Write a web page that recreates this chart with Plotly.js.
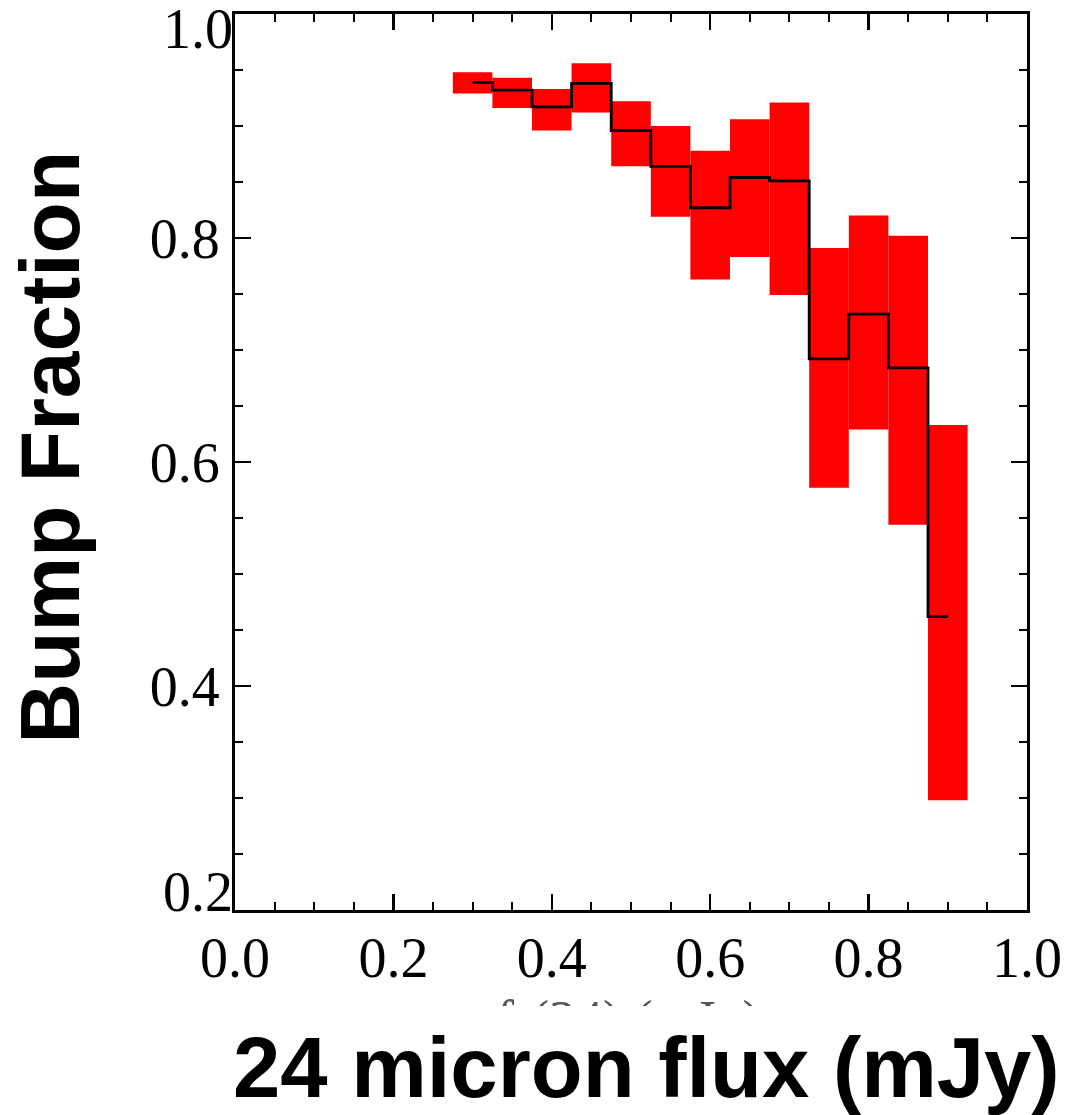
<!DOCTYPE html>
<html>
<head>
<meta charset="utf-8">
<script src="https://cdn.plot.ly/plotly-3.0.1.min.js"></script>
<style>
  html, body { margin: 0; padding: 0; background: #fff; }
  #chart { width: 1076px; height: 1115px; }
</style>
</head>
<body>
<div id="chart"></div>
<script>
// 24 micron flux bins (bin centres, mJy) and bin width
const fluxBins = [0.30, 0.35, 0.40, 0.45, 0.50, 0.55, 0.60, 0.65, 0.70, 0.75, 0.80, 0.85, 0.90];
const binWidth = 0.05;

// bump fraction per bin and its uncertainty band
const bumpFraction = [0.939, 0.932, 0.917, 0.938, 0.896, 0.864, 0.827, 0.854, 0.851, 0.692, 0.732, 0.684, 0.462];
const bandLow      = [0.929, 0.916, 0.896, 0.912, 0.864, 0.819, 0.763, 0.783, 0.749, 0.577, 0.629, 0.544, 0.298];
const bandHigh     = [0.948, 0.943, 0.933, 0.956, 0.922, 0.900, 0.878, 0.906, 0.921, 0.791, 0.820, 0.802, 0.633];

// axis ticks
const xTickVals = [0.0, 0.2, 0.4, 0.6, 0.8, 1.0];
const yTickVals = [0.4, 0.6, 0.8];
const yTopTick = [1.0];
const yBottomTick = [0.2];

const band = {
  type: 'bar',
  x: fluxBins,
  base: bandLow,
  y: bandHigh.map((h, i) => h - bandLow[i]),
  width: fluxBins.map(() => binWidth),
  marker: { color: '#ff0000', line: { width: 0 } },
  hoverinfo: 'skip',
  showlegend: false
};

const steps = {
  type: 'scatter',
  mode: 'lines',
  x: fluxBins,
  y: bumpFraction,
  line: { shape: 'hvh', color: '#000000', width: 2.8 },
  hoverinfo: 'skip',
  showlegend: false
};

// empty traces so the two label-only y axes get drawn
const topLabelHolder = { type: 'scatter', mode: 'lines', x: [], y: [], yaxis: 'y2', hoverinfo: 'skip', showlegend: false };
const bottomLabelHolder = { type: 'scatter', mode: 'lines', x: [], y: [], yaxis: 'y3', hoverinfo: 'skip', showlegend: false };

const serif = 'Liberation Serif, Times New Roman, serif';
const sans = 'Liberation Sans, Arial, sans-serif';
const tickFont = { family: serif, size: 56, color: '#000' };

function axisBase(tickVals) {
  return {
    tickmode: 'array',
    tickvals: tickVals,
    ticktext: tickVals.map(v => v.toFixed(1)),
    ticks: 'inside',
    ticklen: 16,
    tickwidth: 2.5,
    tickcolor: '#000',
    mirror: 'ticks',
    showline: true,
    linewidth: 3,
    linecolor: '#000',
    showgrid: false,
    zeroline: false,
    fixedrange: true,
    tickfont: tickFont,
    minor: { dtick: 0.05, tick0: 0, ticks: 'inside', ticklen: 8, tickwidth: 2, tickcolor: '#000', showgrid: false }
  };
}

// end labels of the y axis sit just inside the frame
function yEndLabelAxis(vals, shift) {
  return {
    overlaying: 'y',
    anchor: 'x',
    side: 'left',
    range: [0.2, 1.0],
    tickmode: 'array',
    tickvals: vals,
    ticktext: vals.map(v => v.toFixed(1)),
    ticks: '',
    showline: false,
    showgrid: false,
    zeroline: false,
    fixedrange: true,
    tickfont: tickFont,
    ticklabelstandoff: 1,
    ticklabelshift: shift,
    ticklabeloverflow: 'allow'
  };
}

const xaxis = Object.assign(axisBase(xTickVals), { range: [0, 1.0], ticklabelstandoff: -3, ticklabeloverflow: 'allow' });
const yaxis = Object.assign(axisBase(yTickVals), { range: [0.2, 1.0], ticklabelstandoff: 1 });

const layout = {
  width: 1076,
  height: 1115,
  margin: { l: 235, r: 49, t: 14, b: 205 },
  paper_bgcolor: '#fff',
  plot_bgcolor: '#fff',
  showlegend: false,
  barmode: 'overlay',
  xaxis: xaxis,
  yaxis: yaxis,
  yaxis2: yEndLabelAxis(yTopTick, 14),
  yaxis3: yEndLabelAxis(yBottomTick, -19),
  annotations: [
    {
      text: '<b>Bump Fraction</b>',
      textangle: -90,
      xref: 'paper', yref: 'paper',
      x: -0.234, y: 0.517,
      xanchor: 'center', yanchor: 'middle',
      showarrow: false,
      font: { family: sans, size: 84, color: '#000' }
    },
    {
      text: '<b>24 micron flux (mJy)</b>',
      xref: 'paper', yref: 'paper',
      x: 0.519, y: -0.176,
      xanchor: 'center', yanchor: 'middle',
      showarrow: false,
      font: { family: sans, size: 85, color: '#000' }
    },
    {
      // original serif axis label, mostly hidden beneath the bold one
      text: 'f<sub>\u03bd</sub>(24) (mJy)',
      xref: 'paper', yref: 'paper',
      x: 0.327, y: -0.087,
      xanchor: 'left', yanchor: 'top',
      height: 16, valign: 'top',
      showarrow: false,
      font: { family: serif, size: 54, color: '#555' }
    }
  ]
};

Plotly.newPlot('chart', [band, steps, topLabelHolder, bottomLabelHolder], layout, { staticPlot: true, displayModeBar: false });
</script>
</body>
</html>
